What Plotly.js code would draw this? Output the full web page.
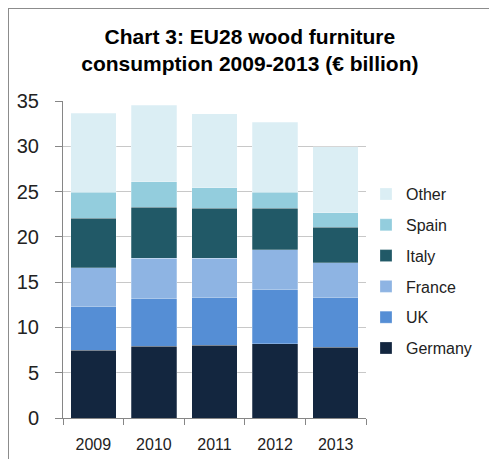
<!DOCTYPE html>
<html>
<head>
<meta charset="utf-8">
<script src="https://cdn.plot.ly/plotly-3.0.1.min.js"></script>
<style>
  html, body { margin: 0; padding: 0; background: #fff; }
  #wrap { position: relative; width: 489px; height: 459px; }
  #chart { width: 489px; height: 459px; }
  #frame { position: absolute; left: 8px; top: 8px; right: -2px; bottom: -2px;
           border-left: 1px solid #8c8c8c; border-top: 1px solid #8c8c8c; pointer-events: none; }
</style>
</head>
<body>
<div id="wrap">
  <div id="chart"></div>
  <div id="frame"></div>
</div>
<script>
const years = ['2009', '2010', '2011', '2012', '2013'];
const germany = [7.5, 7.9, 8.05, 8.2, 7.8];
const uk      = [4.8, 5.25, 5.25, 5.95, 5.45];
const france  = [4.3, 4.5, 4.35, 4.4, 3.9];
const italy   = [5.45, 5.6, 5.5, 4.6, 3.9];
const spain   = [2.85, 2.85, 2.3, 1.8, 1.6];
const other   = [8.75, 8.45, 8.15, 7.7, 7.3];
const yTicks  = [0, 5, 10, 15, 20, 25, 30, 35];

const seriesNames  = ['Germany', 'UK', 'France', 'Italy', 'Spain', 'Other'];
const seriesValues = [germany, uk, france, italy, spain, other];
const seriesColors = ['#13263f', '#558ed5', '#8eb4e3', '#215967', '#93cddd', '#dbeef4'];

const traces = seriesNames.map((name, i) => ({
  type: 'bar',
  name: name,
  x: years,
  y: seriesValues[i],
  legendgroup: name,
  legendrank: seriesNames.length - i,
  marker: { color: seriesColors[i], line: { color: 'rgba(255,255,255,0.5)', width: 0.5 } },
  hoverinfo: 'x+y+name'
}));

const font = 'Liberation Sans, Arial, sans-serif';

const layout = {
  width: 489, height: 459,
  margin: { l: 63, r: 119, t: 101, b: 41 },
  paper_bgcolor: '#ffffff',
  plot_bgcolor: '#ffffff',
  barmode: 'stack',
  bargap: 0.25,
  showlegend: true,
  title: {
    text: 'Chart 3: EU28 wood furniture<br>consumption 2009-2013 (€ billion)',
    font: { family: font, size: 21, color: '#000000', weight: 'bold' },
    x: 0.511, xanchor: 'center', xref: 'container',
    y: 0.905, yanchor: 'top', yref: 'container'
  },
  xaxis: {
    type: 'category',
    showgrid: false,
    showline: true, linecolor: '#868686', linewidth: 1,
    ticks: 'outside', tickson: 'boundaries', ticklen: 6, tickcolor: '#868686',
    ticklabelstandoff: 12,
    tickfont: { family: font, size: 16, color: '#222222' },
    fixedrange: true
  },
  yaxis: {
    range: [0, 35],
    tickvals: yTicks,
    ticktext: yTicks.map(String),
    showgrid: true, gridcolor: '#c8c8c8', gridwidth: 1,
    showline: true, linecolor: '#868686', linewidth: 1,
    ticks: 'outside', ticklen: 7, tickcolor: '#868686',
    ticklabelstandoff: 12,
    zeroline: false,
    tickfont: { family: font, size: 20, color: '#222222' },
    fixedrange: true
  },
  legend: {
    traceorder: 'grouped',
    x: 1.0, xanchor: 'left', xref: 'paper',
    y: 0.76, yanchor: 'top',
    font: { family: font, size: 16, color: '#222222' },
    tracegroupgap: 7,
    bgcolor: 'rgba(0,0,0,0)'
  }
};

Plotly.newPlot('chart', traces, layout, { displayModeBar: false, staticPlot: true });
</script>
</body>
</html>
